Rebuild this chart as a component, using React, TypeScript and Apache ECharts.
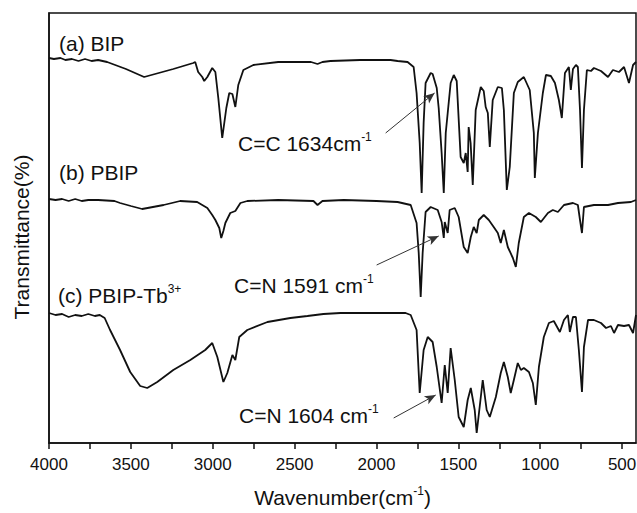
import React, { useEffect, useRef } from "react";
import * as echarts from "echarts";

const FONT = "Liberation Sans, Arial, sans-serif";
const INK = "#111";

// x-axis ticks (wavenumber, cm^-1)
const xTickValues = [4000, 3750, 3500, 3250, 3000, 2750, 2500, 2250, 2000, 1750, 1500, 1250, 1000, 750, 500];
const xLabelValues = [4000, 3500, 3000, 2500, 2000, 1500, 1000, 500];

// (a) BIP  [wavenumber, offset transmittance]
const bip: [number, number][] = [
  [4000, 385], [3970, 384], [3930, 385], [3900, 383], [3860, 384], [3820, 382], [3780, 384], [3740, 382], [3700, 383], [3645, 381],
  [3530, 374], [3419, 366], [3330, 370], [3241, 374], [3119, 380], [3107, 381], [3089, 371], [3064, 366], [3052, 362], [3033, 366],
  [3003, 375], [2984, 371], [2966, 345], [2942, 305], [2917, 335], [2899, 350], [2880, 349], [2862, 336], [2844, 358], [2813, 373],
  [2752, 378], [2600, 381], [2400, 381], [2360, 379], [2330, 381], [2281, 382], [2100, 383], [1914, 383], [1871, 382], [1810, 381],
  [1773, 376], [1755, 350], [1736, 300], [1724, 250], [1712, 320], [1700, 360], [1669, 370], [1657, 369], [1632, 355], [1620, 335],
  [1602, 290], [1589, 250], [1577, 310], [1565, 330], [1547, 360], [1528, 368], [1510, 362], [1486, 286], [1467, 280], [1455, 290],
  [1443, 271], [1437, 316], [1425, 300], [1412, 258], [1394, 333], [1363, 356], [1345, 352], [1333, 336], [1320, 330], [1308, 296],
  [1290, 343], [1259, 356], [1234, 355], [1222, 333], [1204, 253], [1186, 276], [1161, 350], [1137, 361], [1100, 366], [1064, 353],
  [1039, 310], [1033, 265], [1014, 310], [984, 350], [965, 368], [935, 367], [910, 360], [886, 343], [868, 325], [849, 370],
  [825, 376], [813, 353], [800, 374], [782, 378], [770, 376], [757, 333], [745, 275], [733, 333], [715, 373], [690, 372],
  [672, 375], [629, 372], [586, 366], [556, 373], [519, 371], [488, 376], [458, 360], [433, 378], [415, 381]
];

// (b) PBIP
const pbip: [number, number][] = [
  [4000, 244], [3960, 243], [3920, 244], [3880, 242], [3840, 244], [3800, 242], [3760, 243], [3700, 243], [3600, 242], [3566, 240],
  [3500, 237], [3431, 234], [3300, 238], [3199, 242], [3095, 241], [3033, 235], [3003, 228], [2984, 223], [2960, 215], [2948, 205],
  [2935, 212], [2923, 220], [2893, 230], [2862, 232], [2831, 240], [2789, 242], [2600, 243], [2385, 242], [2360, 238], [2330, 242],
  [2200, 243], [2000, 242], [1871, 241], [1791, 238], [1755, 220], [1742, 190], [1730, 146], [1718, 190], [1700, 231], [1669, 236],
  [1626, 233], [1602, 221], [1589, 205], [1583, 221], [1565, 210], [1553, 233], [1522, 235], [1498, 226], [1467, 196], [1443, 190],
  [1424, 206], [1406, 216], [1388, 210], [1375, 223], [1345, 228], [1314, 223], [1284, 216], [1259, 210], [1241, 200], [1222, 213],
  [1198, 196], [1167, 185], [1149, 176], [1131, 200], [1100, 226], [1069, 230], [1027, 226], [996, 221], [953, 230], [923, 233],
  [892, 231], [855, 238], [800, 240], [770, 238], [757, 223], [745, 210], [733, 236], [672, 238], [586, 238], [525, 240],
  [446, 241], [415, 243]
];

// (c) PBIP-Tb3+
const pbipTb: [number, number][] = [
  [4000, 130], [3960, 128], [3920, 129], [3880, 126], [3840, 128], [3800, 127], [3760, 129], [3720, 127], [3690, 128], [3660, 125],
  [3627, 113], [3566, 93], [3504, 71], [3443, 57], [3400, 55], [3339, 61], [3241, 73], [3137, 83], [3046, 93], [3003, 100],
  [2972, 86], [2935, 61], [2911, 70], [2880, 88], [2862, 83], [2838, 106], [2789, 113], [2666, 121], [2526, 125], [2422, 127],
  [2324, 129], [2220, 130], [2000, 130], [1822, 130], [1791, 128], [1755, 113], [1736, 50], [1712, 93], [1687, 106], [1657, 101],
  [1632, 76], [1602, 40], [1583, 78], [1565, 50], [1547, 95], [1522, 63], [1498, 26], [1467, 16], [1443, 43], [1424, 55],
  [1400, 33], [1388, 10], [1351, 63], [1327, 33], [1308, 26], [1271, 46], [1241, 70], [1222, 81], [1198, 66], [1180, 50],
  [1161, 63], [1137, 80], [1118, 73], [1100, 75], [1069, 71], [1045, 60], [1027, 38], [1008, 76], [978, 106], [947, 120],
  [917, 122], [880, 111], [855, 123], [831, 128], [819, 111], [800, 126], [782, 126], [764, 93], [745, 51], [733, 96],
  [708, 123], [672, 123], [629, 120], [598, 115], [568, 117], [549, 110], [525, 118], [488, 117], [458, 118], [433, 110],
  [415, 128]
];

// annotation arrows: [from, to] in data coordinates
const arrowCC: [number, number][] = [[1944, 310], [1645, 350]];
const arrowCN1591: [number, number][] = [[1999, 178], [1620, 207]];
const arrowCN1604: [number, number][] = [[1895, 25], [1638, 48]];

const richText = (size: number) => ({
  n: { fontSize: size, fontFamily: FONT, fill: INK, color: INK, lineHeight: 24 },
  s: { fontSize: 12, fontFamily: FONT, fill: INK, color: INK, lineHeight: 13, verticalAlign: "top" },
});

const textEl = (x: number, y: number, text: string, size = 21) => ({
  type: "text",
  x,
  y,
  silent: true,
  style: {
    text,
    fill: INK,
    font: `${size}px ${FONT}`,
    align: "left",
    verticalAlign: "middle",
    rich: richText(size),
  },
});

export default function App() {
  const ref = useRef<HTMLDivElement>(null);

  useEffect(() => {
    document.body.style.margin = "0";
    if (!ref.current) return;
    const chart = echarts.init(ref.current, undefined, { renderer: "svg" });

    const lineSeries = (name: string, data: [number, number][], extra: any = {}) => ({
      name,
      type: "line",
      data,
      showSymbol: false,
      symbol: "none",
      smooth: false,
      lineStyle: { color: INK, width: 1.8 },
      silent: true,
      ...extra,
    });

    const arrow = (pts: [number, number][]) => [
      { coord: pts[0], symbol: "none" },
      { coord: pts[1], symbol: "arrow", symbolSize: [7, 11] },
    ];

    const option: any = {
      animation: false,
      grid: {
        left: 49,
        right: 1,
        top: 13,
        bottom: 70,
        containLabel: false,
        outerBoundsMode: "none",
        show: true,
        borderColor: INK,
        borderWidth: 1.5,
      },
      xAxis: {
        type: "value",
        inverse: true,
        min: 415,
        max: 4000,
        axisLine: { show: true, lineStyle: { color: INK, width: 1.5 } },
        axisTick: {
          show: true,
          inside: false,
          length: 6,
          customValues: xTickValues,
          lineStyle: { color: INK, width: 1.5 },
        },
        axisLabel: {
          customValues: xLabelValues,
          formatter: (v: number) => String(v),
          fontSize: 17,
          fontFamily: FONT,
          color: INK,
          margin: 13,
        },
        splitLine: { show: false },
        name: "{n|Wavenumber(cm}{s|-1}{n|)}",
        nameLocation: "middle",
        nameGap: 42,
        nameTextStyle: {
          fontSize: 21,
          fontFamily: FONT,
          color: INK,
          rich: {
            n: { fontSize: 21, fontFamily: FONT, color: INK, lineHeight: 24 },
            s: { fontSize: 12, fontFamily: FONT, color: INK, lineHeight: 13, verticalAlign: "top" },
          },
        },
      },
      yAxis: {
        type: "value",
        min: 0,
        max: 430,
        axisLine: { show: true, lineStyle: { color: INK, width: 1.5 } },
        axisTick: { show: false },
        axisLabel: { show: false },
        splitLine: { show: false },
      },
      series: [
        lineSeries("(a) BIP", bip, {
          markLine: {
            silent: true,
            symbol: ["none", "arrow"],
            lineStyle: { color: "#333", width: 1, type: "solid" },
            label: { show: false },
            data: [arrow(arrowCC), arrow(arrowCN1591), arrow(arrowCN1604)],
          },
        }),
        lineSeries("(b) PBIP", pbip),
        lineSeries("(c) PBIP-Tb3+", pbipTb),
      ],
      graphic: [
        textEl(59, 43, "{n|(a) BIP}"),
        textEl(59, 172, "{n|(b) PBIP}"),
        textEl(58, 295, "{n|(c) PBIP-Tb}{s|3+}"),
        textEl(238, 143, "{n|C=C 1634cm}{s|-1}"),
        textEl(234, 285, "{n|C=N 1591 cm}{s|-1}"),
        textEl(239, 415, "{n|C=N 1604 cm}{s|-1}"),
        {
          type: "text",
          x: 21,
          y: 237,
          rotation: Math.PI / 2,
          silent: true,
          style: {
            text: "Transmittance(%)",
            fill: INK,
            font: `21px ${FONT}`,
            align: "center",
            verticalAlign: "middle",
          },
        },
      ],
    };

    chart.setOption(option);
    return () => chart.dispose();
  }, []);

  return <div ref={ref} style={{ width: 637, height: 513 }} />;
}
